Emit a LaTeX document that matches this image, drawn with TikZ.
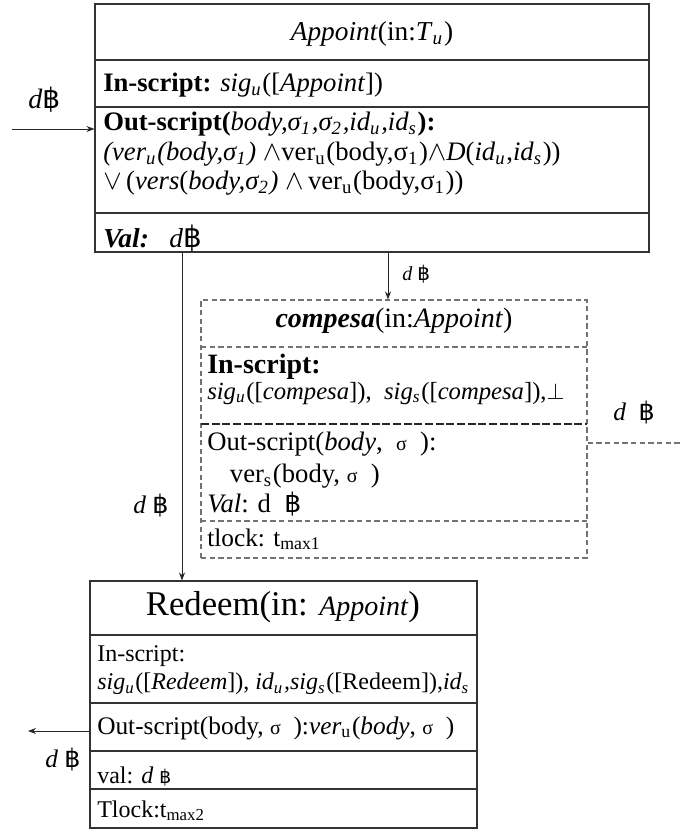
\documentclass[tikz,border=0pt]{standalone}
\usepackage{fontspec}
\setmainfont{Liberation Serif}
\newfontfamily\bahtfont{DejaVu Sans}
\usetikzlibrary{fit,arrows.meta}

% Baht sign and text subscripts
\newcommand\baht{{\bahtfont ฿}}
\newcommand\lo[1]{\textsubscript{#1}\kern0.8pt}
\newcommand\fs[1]{\fontsize{#1}{#1}\selectfont}
\newcommand\smsig{{\fs{15}σ}}

\tikzset{
  box/.style={draw=black!80, line width=0.8pt, inner sep=0pt},
  dbox/.style={draw=black!55, line width=0.8pt, dash pattern=on 4pt off 2.5pt, inner sep=0pt},
  rule/.style={draw=black!80, line width=0.8pt},
  drule/.style={draw=black!55, line width=0.8pt, dash pattern=on 4pt off 2.5pt},
  kdrule/.style={draw=black!85, line width=0.8pt, dash pattern=on 6pt off 2pt},
  txt/.style={anchor=base west, inner sep=0pt},
  mtxt/.style={anchor=north west, inner sep=0pt, align=left},
  ctxt/.style={anchor=base, inner sep=0pt},
  flow/.style={-{Stealth[length=6pt,width=4.5pt]}, line width=0.6pt, draw=black!85},
}

\begin{document}
\begin{tikzpicture}[x=0.75pt,y=-0.75pt]
\useasboundingbox (0,0) rectangle (682,832);

% ---------- Appoint transaction ----------
\node[box, fit={(95,4)(649,252)}] (appoint) {};
\draw[rule] (95,60) -- (649,60);
\draw[rule] (95,107) -- (649,107);
\draw[rule] (95,213) -- (649,213);
\node[ctxt] (aTitle) at (372,40) {\fs{20.5}\textit{Appoint}(in:\textit{T}\lo{\textit{u}})};
\node[txt] (aIn) at (103,91) {\fs{20}\textbf{In-script:} \textit{sig\lo{u}}([\textit{Appoint}])};
\node[mtxt, font=\fontsize{20}{22}\selectfont] (aOut) at (103,112) {%
  \textbf{Out-script(}\textit{body,σ\lo{1},σ\lo{2},id\lo{u},id\lo{s}}\textbf{):}\\
  \textit{(ver\lo{u}(body,σ\lo{1})} $\wedge$ver\lo{u}(body,σ\lo{1})$\wedge$\textit{D}(\textit{id\lo{u}},\textit{id\lo{s}}))\\
  $\vee$\,(\textit{vers}(\textit{body,σ\lo{2})} $\wedge$\,ver\lo{u}(body,σ\lo{1}))};
\node[txt] (aVal) at (103,247) {\fs{20.5}\textbf{\textit{Val:}}\ \ \ \textit{d}{\fs{22}\baht}};

% ---------- compesa transaction ----------
\node[dbox, fit={(201,300)(587,558)}] (compesa) {};
\draw[drule] (201,347) -- (587,347);
\draw[kdrule] (201,424) -- (587,424);
\draw[drule] (201,521) -- (587,521);
\node[ctxt] (cTitle) at (394,327) {\fs{21}\textbf{\textit{compesa}}(in:\textit{Appoint})};
\node[mtxt] (cIn) at (207,354) {%
  {\fs{21}\textbf{In-script:}}\\[1pt]
  {\fs{18.5}\textit{sig\lo{u}}([\textit{compesa}]),\hspace{0.5em}\textit{sig\lo{s}}([\textit{compesa}]),$\perp$}};
\node[mtxt, font=\fontsize{20}{24}\selectfont] (cOut) at (207,432) {%
  Out-script(\textit{body},\ \ \smsig\ \ ):\\
  \hspace{17pt}ver\lo{s}(body,\ \smsig\ \ )\\[-2pt]
  \textit{Val}: d \ \baht};
\node[txt] (cLock) at (207,546) {\fs{19}tlock: t\lo{max1}};

% ---------- Redeem transaction ----------
\node[box, fit={(90,581)(477,828)}] (redeem) {};
\draw[rule] (90,635) -- (477,635);
\draw[rule] (90,703) -- (477,703);
\draw[rule] (90,751) -- (477,751);
\draw[rule] (90,789) -- (477,789);
\node[ctxt] (rTitle) at (283,615) {\fs{26}Redeem(in: {\fs{21}\textit{Appoint}})};
\node[mtxt, font=\fontsize{18}{21.5}\selectfont] (rIn) at (97,645) {%
  In-script:\\
  \textit{sig\lo{u}}([\textit{Redeem}]), \textit{id\lo{u},sig\lo{s}}([Redeem]),\textit{id\lo{s}}};
\node[txt] (rOut) at (97,734) {\fs{19}Out-script(body,\ \smsig\ \ ):\textit{ver}\lo{u}(\textit{body},\ \smsig\ \ )};
\node[txt] (rVal) at (97,783) {\fs{18}val: \textit{d} {\fs{14}\baht}};
\node[txt] (rLock) at (97,817) {\fs{18}Tlock:t\lo{max2}};

% ---------- value flows ----------
\coordinate (inStart) at (12,129);
\draw[flow] (inStart) -- (inStart -| appoint.west);
\node[txt] (lIn) at (28,108) {\fs{21}\textit{d}\baht};

\coordinate (xa) at (388,0);
\draw[flow] (xa |- appoint.south) -- (xa |- compesa.north);
\node[txt] (lA) at (402,280) {\fs{15}\textit{d} \baht};

\coordinate (xb) at (182,0);
\draw[flow] (xb |- appoint.south) -- (xb |- redeem.north);
\node[txt] (lB) at (133,513) {\fs{19}\textit{d} \baht};

\coordinate (outR) at (682,443);
\draw[drule] (outR -| compesa.east) -- (outR);
\node[txt] (lC) at (613,420) {\fs{19}\textit{d}\ \ \baht};

\coordinate (outL) at (28,731);
\draw[flow] (outL -| redeem.west) -- (outL);
\node[txt] (lD) at (45,767) {\fs{19}\textit{d} \baht};
\end{tikzpicture}
\end{document}
